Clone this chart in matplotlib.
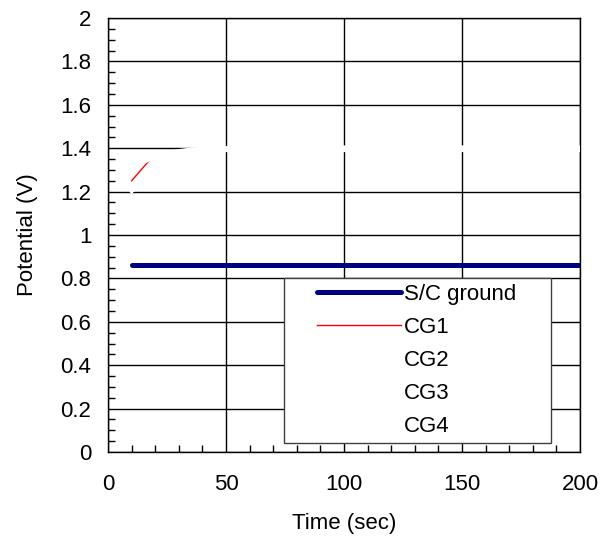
import numpy as np
import matplotlib.pyplot as plt
from matplotlib.ticker import MultipleLocator
from matplotlib.lines import Line2D
from matplotlib.legend_handler import HandlerLine2D

plt.rcParams["font.family"] = ["Liberation Sans", "DejaVu Sans"]

# data
time_sc = [10, 50, 100, 150, 200]
sc_ground = [0.86, 0.86, 0.86, 0.86, 0.86]

time_cg = [10, 14, 18, 22, 26, 30, 35, 40, 60, 100, 150, 200]
cg1 = [1.25, 1.30, 1.35, 1.37, 1.38, 1.388, 1.392, 1.395, 1.395, 1.395, 1.395, 1.395]
cg2 = [1.20, 1.24, 1.28, 1.32, 1.35, 1.37, 1.385, 1.39, 1.39, 1.39, 1.39, 1.39]
cg3 = [1.31, 1.33, 1.35, 1.37, 1.38, 1.388, 1.395, 1.40, 1.40, 1.40, 1.40, 1.40]
cg4 = [1.22, 1.27, 1.31, 1.34, 1.36, 1.375, 1.39, 1.397, 1.405, 1.405, 1.405, 1.405]

FS = 16

fig = plt.figure(figsize=(6.12, 5.39), dpi=100)
ax = fig.add_axes([0.1765, 0.1614, 0.7713, 0.8052])

ax.plot(time_sc, sc_ground, color="#000080", linewidth=3.6,
        solid_capstyle="round", label="S/C ground", zorder=3)
ax.plot(time_cg, cg1, color="red", linewidth=1.0, label="CG1", zorder=3)
ax.plot(time_cg, cg2, color="white", linewidth=2.5, label="CG2", zorder=4)
ax.plot(time_cg, cg3, color="white", linewidth=2.5, label="CG3", zorder=4)
ax.plot(time_cg, cg4, color="white", linewidth=2.5, label="CG4", zorder=4)

ax.set_xlim(0, 200)
ax.set_ylim(0, 2)
ax.xaxis.set_major_locator(MultipleLocator(50))
ax.xaxis.set_minor_locator(MultipleLocator(10))
ax.yaxis.set_major_locator(MultipleLocator(0.2))
ax.yaxis.set_minor_locator(MultipleLocator(0.05))
ax.yaxis.set_major_formatter(plt.FuncFormatter(lambda v, p: f"{v:g}"))

ax.tick_params(which="both", direction="in", top=False, right=False,
               labelsize=FS, color="black")
ax.tick_params(which="major", length=0)
ax.tick_params(axis="x", which="major", pad=16)
ax.tick_params(axis="y", which="major", pad=12)
ax.tick_params(which="minor", length=5, width=1)
ax.grid(True, which="major", color="black", linewidth=1.0)
ax.set_axisbelow(True)
for s in ax.spines.values():
    s.set_linewidth(1.0)
    s.set_color("black")

ax.set_xlabel("Time (sec)", fontsize=FS, labelpad=13)
ax.set_ylabel("Potential (V)", fontsize=FS, labelpad=16)

leg = ax.legend(loc="lower left", bbox_to_anchor=(0.373, 0.0207, 0.566, 0.373),
                mode="expand", borderaxespad=0, fontsize=FS,
                handlelength=5.0, handletextpad=0.13,
                labelspacing=0.55, borderpad=0.25, fancybox=False,
                framealpha=1, edgecolor="#404040",
                handler_map={Line2D: HandlerLine2D(xpad=1.25)})
leg.get_frame().set_linewidth(1.0)

fig.savefig("out.png", dpi=100)
